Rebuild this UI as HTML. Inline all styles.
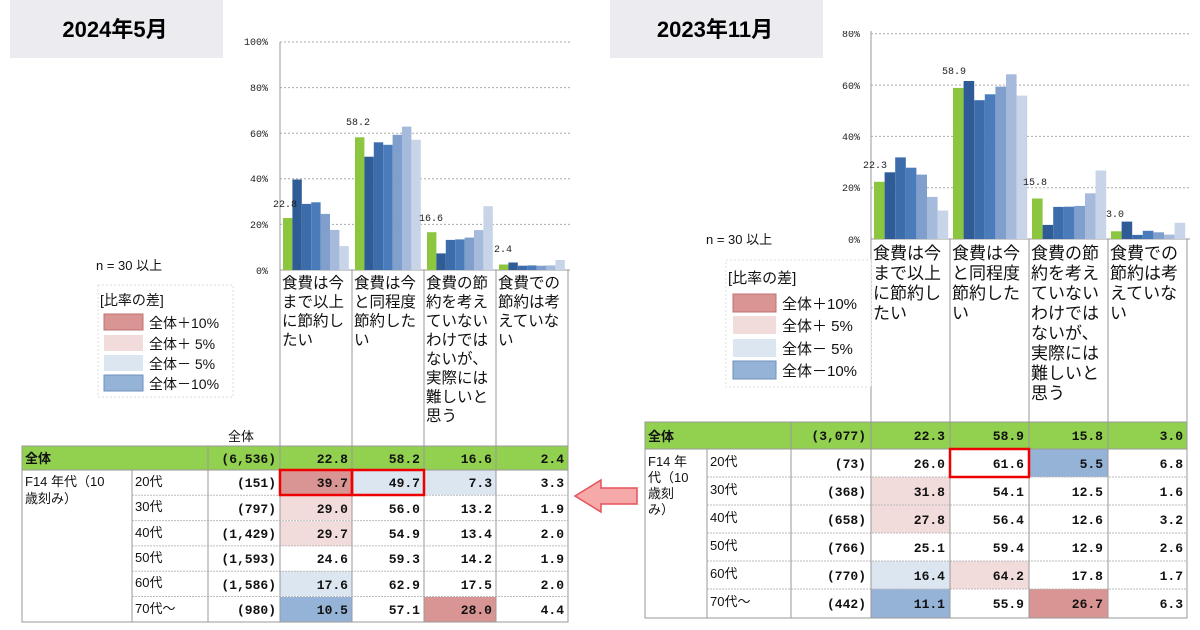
<!DOCTYPE html>
<html><head><meta charset="utf-8"><style>
html,body{margin:0;padding:0;background:#fff;}
svg{display:block;font-family:"Liberation Sans","Noto Sans CJK JP",sans-serif;}
.t{font-family:"Liberation Mono","Noto Sans CJK JP",monospace;font-size:13px;font-weight:bold;fill:#111;}
.j{font-family:"Liberation Sans","Noto Sans CJK JP",sans-serif;font-size:13px;fill:#111;}
.ax{font-family:"Liberation Mono",monospace;font-size:10px;fill:#222;}
.c{font-family:"Liberation Sans","Noto Sans CJK JP",sans-serif;fill:#111;}
</style></head><body>
<svg width="1200" height="630" viewBox="0 0 1200 630">
<!-- titles -->
<rect x="10" y="0" width="213" height="58" fill="#ececf0"/>
<text x="115" y="37" text-anchor="middle" font-size="22" font-weight="bold" fill="#000">2024年5月</text>
<rect x="610" y="0" width="213" height="58" fill="#ececf0"/>
<text x="715" y="37" text-anchor="middle" font-size="22" font-weight="bold" fill="#000">2023年11月</text>

<!-- LEFT CHART grid -->
<g stroke="#aaa" stroke-dasharray="2,2" stroke-width="1">
<line x1="280" y1="42" x2="570" y2="42"/><line x1="280" y1="87.6" x2="570" y2="87.6"/>
<line x1="280" y1="133.2" x2="570" y2="133.2"/><line x1="280" y1="178.8" x2="570" y2="178.8"/>
<line x1="280" y1="224.4" x2="570" y2="224.4"/>
</g>
<g class="ax" text-anchor="end">
<text x="268" y="45">100%</text><text x="268" y="91">80%</text><text x="268" y="137">60%</text>
<text x="268" y="182">40%</text><text x="268" y="228">20%</text><text x="268" y="274">0%</text>
</g>
<g stroke="#999" stroke-width="1">
<line x1="280" y1="42" x2="280" y2="446"/><line x1="352" y1="270" x2="352" y2="446"/>
<line x1="424" y1="270" x2="424" y2="446"/><line x1="496" y1="270" x2="496" y2="446"/>
<line x1="568" y1="270" x2="568" y2="446"/><line x1="280" y1="270" x2="570" y2="270"/>
</g>
<!-- left bars -->
<g>
<rect x="283" y="218" width="9.4" height="52" fill="#8cc63f"/>
<rect x="292.4" y="179.5" width="9.4" height="90.5" fill="#2f5b96"/>
<rect x="301.8" y="203.9" width="9.4" height="66.1" fill="#3d6cab"/>
<rect x="311.2" y="202.3" width="9.4" height="67.7" fill="#4a7cbb"/>
<rect x="320.6" y="213.9" width="9.4" height="56.1" fill="#819fcc"/>
<rect x="330" y="229.9" width="9.4" height="40.1" fill="#a6badb"/>
<rect x="339.4" y="246.1" width="9.4" height="23.9" fill="#c8d4e8"/>

<rect x="355" y="137.3" width="9.4" height="132.7" fill="#8cc63f"/>
<rect x="364.4" y="156.7" width="9.4" height="113.3" fill="#2f5b96"/>
<rect x="373.8" y="142.3" width="9.4" height="127.7" fill="#3d6cab"/>
<rect x="383.2" y="144.8" width="9.4" height="125.2" fill="#4a7cbb"/>
<rect x="392.6" y="134.8" width="9.4" height="135.2" fill="#819fcc"/>
<rect x="402" y="126.6" width="9.4" height="143.4" fill="#a6badb"/>
<rect x="411.4" y="139.8" width="9.4" height="130.2" fill="#c8d4e8"/>

<rect x="427" y="232.2" width="9.4" height="37.8" fill="#8cc63f"/>
<rect x="436.4" y="253.4" width="9.4" height="16.6" fill="#2f5b96"/>
<rect x="445.8" y="239.9" width="9.4" height="30.1" fill="#3d6cab"/>
<rect x="455.2" y="239.4" width="9.4" height="30.6" fill="#4a7cbb"/>
<rect x="464.6" y="237.6" width="9.4" height="32.4" fill="#819fcc"/>
<rect x="474" y="230.1" width="9.4" height="39.9" fill="#a6badb"/>
<rect x="483.4" y="206.2" width="9.4" height="63.8" fill="#c8d4e8"/>

<rect x="499" y="264.5" width="9.4" height="5.5" fill="#8cc63f"/>
<rect x="508.4" y="262.5" width="9.4" height="7.5" fill="#2f5b96"/>
<rect x="517.8" y="265.7" width="9.4" height="4.3" fill="#3d6cab"/>
<rect x="527.2" y="265.4" width="9.4" height="4.6" fill="#4a7cbb"/>
<rect x="536.6" y="265.7" width="9.4" height="4.3" fill="#819fcc"/>
<rect x="546" y="265.4" width="9.4" height="4.6" fill="#a6badb"/>
<rect x="555.4" y="260" width="9.4" height="10" fill="#c8d4e8"/>
</g>
<g class="ax" font-size="11">
<text x="273" y="207">22.8</text><text x="346" y="125">58.2</text>
<text x="419" y="221">16.6</text><text x="494" y="252">2.4</text>
</g>
<g class="c" font-size="15.5">
<text x="282" y="288">食費は今</text><text x="282" y="307">まで以上</text><text x="282" y="326">に節約し</text><text x="282" y="345">たい</text>
<text x="354" y="288">食費は今</text><text x="354" y="307">と同程度</text><text x="354" y="326">節約した</text><text x="354" y="345">い</text>
<text x="426" y="288">食費の節</text><text x="426" y="307">約を考え</text><text x="426" y="326">ていない</text><text x="426" y="345">わけでは</text><text x="426" y="364">ないが、</text><text x="426" y="383">実際には</text><text x="426" y="402">難しいと</text><text x="426" y="421">思う</text>
<text x="498" y="288">食費での</text><text x="498" y="307">節約は考</text><text x="498" y="326">えていな</text><text x="498" y="345">い</text>
</g>
<text x="96" y="270" class="j" font-size="14">n = 30 以上</text>
<!-- left legend -->
<rect x="98" y="285" width="135" height="112" fill="#fff" stroke="#ddd" stroke-dasharray="2,2"/>
<g class="c" font-size="14">
<text x="100" y="305">[比率の差]</text>
<rect x="104" y="314" width="39" height="16" fill="#d99594" stroke="#c07070"/><text x="149" y="328">全体＋10%</text>
<rect x="104" y="335" width="39" height="16" fill="#f2dcdb"/><text x="149" y="349">全体＋ 5%</text>
<rect x="104" y="355" width="39" height="16" fill="#dce6f1"/><text x="149" y="369">全体－ 5%</text>
<rect x="104" y="375" width="39" height="16" fill="#95b3d7" stroke="#6f90bd"/><text x="149" y="389">全体－10%</text>
</g>
<text x="228" y="441" class="j">全体</text>

<!-- LEFT TABLE -->
<rect x="22" y="446" width="546" height="24" fill="#92d050"/>
<rect x="280" y="470" width="72" height="25" fill="#d99594"/>
<rect x="352" y="470" width="72" height="25" fill="#dce6f1"/>
<rect x="424" y="470" width="72" height="25" fill="#dce6f1"/>
<rect x="280" y="495" width="72" height="25" fill="#f2dcdb"/>
<rect x="280" y="521" width="72" height="25" fill="#f2dcdb"/>
<rect x="280" y="571" width="72" height="25" fill="#dce6f1"/>
<rect x="280" y="597" width="72" height="25" fill="#95b3d7"/>
<rect x="424" y="597" width="72" height="25" fill="#d99594"/>
<g stroke="#bbb" stroke-dasharray="2,1" stroke-width="1">
<line x1="132" y1="495.3" x2="568" y2="495.3"/><line x1="132" y1="520.6" x2="568" y2="520.6"/>
<line x1="132" y1="545.9" x2="568" y2="545.9"/><line x1="132" y1="571.2" x2="568" y2="571.2"/>
<line x1="132" y1="596.5" x2="568" y2="596.5"/>
</g>
<g stroke="#999" stroke-width="1" fill="none">
<rect x="22" y="446" width="546" height="176"/>
<line x1="22" y1="470" x2="568" y2="470"/>
<line x1="132" y1="470" x2="132" y2="622"/><line x1="208" y1="446" x2="208" y2="622"/>
<line x1="280" y1="446" x2="280" y2="622"/><line x1="352" y1="446" x2="352" y2="622"/>
<line x1="424" y1="446" x2="424" y2="622"/><line x1="496" y1="446" x2="496" y2="622"/>
</g>
<g stroke="#e00" stroke-width="2.5" fill="none">
<rect x="280" y="470" width="72" height="25"/><rect x="352" y="470" width="72" height="25"/>
</g>
<g class="j"><text x="25" y="463" font-weight="bold">全体</text>
<text x="25" y="486">F14 年代（10</text><text x="25" y="503">歳刻み）</text>
<text x="135" y="486">20代</text><text x="135" y="511">30代</text><text x="135" y="537">40代</text>
<text x="135" y="562">50代</text><text x="135" y="587">60代</text><text x="135" y="613">70代～</text></g>
<g class="t" text-anchor="end">
<text x="276" y="463">(6,536)</text><text x="348" y="463">22.8</text><text x="420" y="463">58.2</text><text x="492" y="463">16.6</text><text x="564" y="463">2.4</text>
<text x="276" y="487">(151)</text><text x="348" y="487">39.7</text><text x="420" y="487">49.7</text><text x="492" y="487">7.3</text><text x="564" y="487">3.3</text>
<text x="276" y="513">(797)</text><text x="348" y="513">29.0</text><text x="420" y="513">56.0</text><text x="492" y="513">13.2</text><text x="564" y="513">1.9</text>
<text x="276" y="538">(1,429)</text><text x="348" y="538">29.7</text><text x="420" y="538">54.9</text><text x="492" y="538">13.4</text><text x="564" y="538">2.0</text>
<text x="276" y="563">(1,593)</text><text x="348" y="563">24.6</text><text x="420" y="563">59.3</text><text x="492" y="563">14.2</text><text x="564" y="563">1.9</text>
<text x="276" y="589">(1,586)</text><text x="348" y="589">17.6</text><text x="420" y="589">62.9</text><text x="492" y="589">17.5</text><text x="564" y="589">2.0</text>
<text x="276" y="614">(980)</text><text x="348" y="614">10.5</text><text x="420" y="614">57.1</text><text x="492" y="614">28.0</text><text x="564" y="614">4.4</text>
</g>

<!-- arrow -->
<polygon points="575,496 601,480 601,488 637,488 637,504 601,504 601,512" fill="#f6a9a9" stroke="#e8505a" stroke-width="1.5"/>

<!-- RIGHT CHART -->
<g stroke="#aaa" stroke-dasharray="2,2" stroke-width="1">
<line x1="871" y1="33.8" x2="1190" y2="33.8"/><line x1="871" y1="85.1" x2="1190" y2="85.1"/>
<line x1="871" y1="136.4" x2="1190" y2="136.4"/><line x1="871" y1="187.7" x2="1190" y2="187.7"/>
</g>
<g class="ax" text-anchor="end">
<text x="860" y="37">80%</text><text x="860" y="89">60%</text><text x="860" y="140">40%</text>
<text x="860" y="191">20%</text><text x="860" y="243">0%</text>
</g>
<rect x="830" y="0" width="40" height="31" fill="#fff"/>
<g stroke="#999" stroke-width="1">
<line x1="871" y1="31" x2="871" y2="422"/><line x1="950" y1="239" x2="950" y2="422"/>
<line x1="1029" y1="239" x2="1029" y2="422"/><line x1="1108" y1="239" x2="1108" y2="422"/>
<line x1="1187" y1="239" x2="1187" y2="422"/><line x1="871" y1="239" x2="1190" y2="239"/>
</g>
<g>
<rect x="874" y="181.8" width="10.6" height="57.2" fill="#8cc63f"/>
<rect x="884.6" y="172.3" width="10.6" height="66.7" fill="#2f5b96"/>
<rect x="895.2" y="157.4" width="10.6" height="81.6" fill="#3d6cab"/>
<rect x="905.8" y="167.7" width="10.6" height="71.3" fill="#4a7cbb"/>
<rect x="916.4" y="174.6" width="10.6" height="64.4" fill="#819fcc"/>
<rect x="927" y="196.9" width="10.6" height="42.1" fill="#a6badb"/>
<rect x="937.6" y="210.5" width="10.6" height="28.5" fill="#c8d4e8"/>

<rect x="953" y="87.9" width="10.6" height="151.1" fill="#8cc63f"/>
<rect x="963.6" y="81" width="10.6" height="158" fill="#2f5b96"/>
<rect x="974.2" y="100.2" width="10.6" height="138.8" fill="#3d6cab"/>
<rect x="984.8" y="94.3" width="10.6" height="144.7" fill="#4a7cbb"/>
<rect x="995.4" y="86.6" width="10.6" height="152.4" fill="#819fcc"/>
<rect x="1006" y="74.3" width="10.6" height="164.7" fill="#a6badb"/>
<rect x="1016.6" y="95.6" width="10.6" height="143.4" fill="#c8d4e8"/>

<rect x="1032" y="198.5" width="10.6" height="40.5" fill="#8cc63f"/>
<rect x="1042.6" y="224.9" width="10.6" height="14.1" fill="#2f5b96"/>
<rect x="1053.2" y="206.9" width="10.6" height="32.1" fill="#3d6cab"/>
<rect x="1063.8" y="206.7" width="10.6" height="32.3" fill="#4a7cbb"/>
<rect x="1074.4" y="205.9" width="10.6" height="33.1" fill="#819fcc"/>
<rect x="1085" y="193.3" width="10.6" height="45.7" fill="#a6badb"/>
<rect x="1095.6" y="170.5" width="10.6" height="68.5" fill="#c8d4e8"/>

<rect x="1111" y="231.3" width="10.6" height="7.7" fill="#8cc63f"/>
<rect x="1121.6" y="221.6" width="10.6" height="17.4" fill="#2f5b96"/>
<rect x="1132.2" y="234.9" width="10.6" height="4.1" fill="#3d6cab"/>
<rect x="1142.8" y="230.8" width="10.6" height="8.2" fill="#4a7cbb"/>
<rect x="1153.4" y="232.3" width="10.6" height="6.7" fill="#819fcc"/>
<rect x="1164" y="234.6" width="10.6" height="4.4" fill="#a6badb"/>
<rect x="1174.6" y="222.8" width="10.6" height="16.2" fill="#c8d4e8"/>
</g>
<g class="ax" font-size="11">
<text x="863" y="168">22.3</text><text x="942" y="74">58.9</text>
<text x="1023" y="185">15.8</text><text x="1106" y="217">3.0</text>
</g>
<g class="c" font-size="17">
<text x="873" y="259">食費は今</text><text x="873" y="279">まで以上</text><text x="873" y="299">に節約し</text><text x="873" y="319">たい</text>
<text x="952" y="259">食費は今</text><text x="952" y="279">と同程度</text><text x="952" y="299">節約した</text><text x="952" y="319">い</text>
<text x="1031" y="259">食費の節</text><text x="1031" y="279">約を考え</text><text x="1031" y="299">ていない</text><text x="1031" y="319">わけでは</text><text x="1031" y="339">ないが、</text><text x="1031" y="359">実際には</text><text x="1031" y="379">難しいと</text><text x="1031" y="399">思う</text>
<text x="1110" y="259">食費での</text><text x="1110" y="279">節約は考</text><text x="1110" y="299">えていな</text><text x="1110" y="319">い</text>
</g>
<text x="706" y="244" class="j" font-size="14">n = 30 以上</text>
<rect x="726" y="260" width="145" height="127" fill="#fff" stroke="#ddd" stroke-dasharray="2,2"/>
<g class="c" font-size="15">
<text x="728" y="283">[比率の差]</text>
<rect x="733" y="294" width="43" height="18" fill="#d99594" stroke="#c07070"/><text x="782" y="309">全体＋10%</text>
<rect x="733" y="316" width="43" height="18" fill="#f2dcdb"/><text x="782" y="331">全体＋ 5%</text>
<rect x="733" y="339" width="43" height="18" fill="#dce6f1"/><text x="782" y="354">全体－ 5%</text>
<rect x="733" y="361" width="43" height="18" fill="#95b3d7" stroke="#6f90bd"/><text x="782" y="376">全体－10%</text>
</g>

<!-- RIGHT TABLE -->
<rect x="645" y="422" width="542" height="27" fill="#92d050"/>
<rect x="1029" y="449" width="79" height="28" fill="#95b3d7"/>
<rect x="871" y="477" width="79" height="28" fill="#f2dcdb"/>
<rect x="871" y="505" width="79" height="28" fill="#f2dcdb"/>
<rect x="871" y="561" width="79" height="28" fill="#dce6f1"/>
<rect x="950" y="561" width="79" height="28" fill="#f2dcdb"/>
<rect x="871" y="589" width="79" height="29" fill="#95b3d7"/>
<rect x="1029" y="589" width="79" height="29" fill="#d99594"/>
<g stroke="#bbb" stroke-dasharray="2,1" stroke-width="1">
<line x1="707" y1="477" x2="1187" y2="477"/><line x1="707" y1="505" x2="1187" y2="505"/>
<line x1="707" y1="533" x2="1187" y2="533"/><line x1="707" y1="561" x2="1187" y2="561"/>
<line x1="707" y1="589" x2="1187" y2="589"/>
</g>
<g stroke="#999" stroke-width="1" fill="none">
<rect x="645" y="422" width="542" height="196"/>
<line x1="645" y1="449" x2="1187" y2="449"/>
<line x1="707" y1="449" x2="707" y2="618"/><line x1="791" y1="422" x2="791" y2="618"/>
<line x1="871" y1="422" x2="871" y2="618"/><line x1="950" y1="422" x2="950" y2="618"/>
<line x1="1029" y1="422" x2="1029" y2="618"/><line x1="1108" y1="422" x2="1108" y2="618"/>
</g>
<rect x="950" y="449" width="79" height="28" fill="none" stroke="#e00" stroke-width="2.5"/>
<g class="j"><text x="648" y="441" font-weight="bold">全体</text>
<text x="648" y="466">F14 年</text><text x="648" y="482">代（10</text><text x="648" y="498">歳刻</text><text x="648" y="514">み）</text>
<text x="710" y="466">20代</text><text x="710" y="494">30代</text><text x="710" y="522">40代</text>
<text x="710" y="550">50代</text><text x="710" y="578">60代</text><text x="710" y="606">70代～</text></g>
<g class="t" text-anchor="end">
<text x="866" y="440">(3,077)</text><text x="945" y="440">22.3</text><text x="1024" y="440">58.9</text><text x="1103" y="440">15.8</text><text x="1183" y="440">3.0</text>
<text x="866" y="468">(73)</text><text x="945" y="468">26.0</text><text x="1024" y="468">61.6</text><text x="1103" y="468">5.5</text><text x="1183" y="468">6.8</text>
<text x="866" y="496">(368)</text><text x="945" y="496">31.8</text><text x="1024" y="496">54.1</text><text x="1103" y="496">12.5</text><text x="1183" y="496">1.6</text>
<text x="866" y="524">(658)</text><text x="945" y="524">27.8</text><text x="1024" y="524">56.4</text><text x="1103" y="524">12.6</text><text x="1183" y="524">3.2</text>
<text x="866" y="552">(766)</text><text x="945" y="552">25.1</text><text x="1024" y="552">59.4</text><text x="1103" y="552">12.9</text><text x="1183" y="552">2.6</text>
<text x="866" y="580">(770)</text><text x="945" y="580">16.4</text><text x="1024" y="580">64.2</text><text x="1103" y="580">17.8</text><text x="1183" y="580">1.7</text>
<text x="866" y="608">(442)</text><text x="945" y="608">11.1</text><text x="1024" y="608">55.9</text><text x="1103" y="608">26.7</text><text x="1183" y="608">6.3</text>
</g>
</svg>
</body></html>
